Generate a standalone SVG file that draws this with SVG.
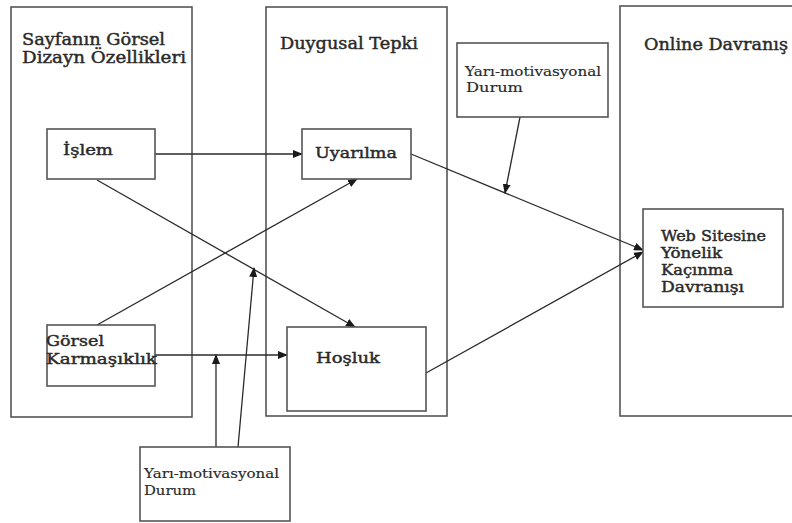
<svg xmlns="http://www.w3.org/2000/svg" width="792" height="523" viewBox="0 0 792 523">
<style>
.box{fill:none;stroke:#555;stroke-width:1.6}
.nb{fill:#fff;stroke:#555;stroke-width:1.6}
.t{font-family:"DejaVu Serif","Liberation Serif",serif;fill:#2a2a2a}
.h{font-size:16.5px;stroke:#2a2a2a;stroke-width:0.45}
.n{font-size:15px;stroke:#2a2a2a;stroke-width:0.45}
.s{font-size:12px;stroke:#2a2a2a;stroke-width:0.15}
.c{stroke:#2a2a2a;stroke-width:1.3;fill:none}
</style>
<defs>
<marker id="ah" markerUnits="userSpaceOnUse" markerWidth="10" markerHeight="8" refX="9" refY="4" orient="auto">
<path d="M0,0 L10,4 L0,8 Z" fill="#1a1a1a"/>
</marker>
</defs>
<rect width="792" height="523" fill="#fff"/>
<g id="col-left">
<rect class="box" x="11" y="7" width="181" height="410"/>
<text class="t h" x="22" y="45" textLength="143" lengthAdjust="spacingAndGlyphs">Sayfanın Görsel</text>
<text class="t h" x="22" y="63" textLength="164" lengthAdjust="spacingAndGlyphs">Dizayn Özellikleri</text>
</g>
<g id="col-mid">
<rect class="box" x="266" y="7" width="181" height="409"/>
<text class="t h" x="280" y="49" textLength="138" lengthAdjust="spacingAndGlyphs">Duygusal Tepki</text>
</g>
<g id="col-right">
<rect class="box" x="620" y="6" width="190" height="410"/>
<text class="t h" x="644" y="50" textLength="144" lengthAdjust="spacingAndGlyphs">Online Davranış</text>
</g>
<g id="connectors">
<line class="c" x1="155" y1="154" x2="302" y2="154" marker-end="url(#ah)"/>
<line class="c" x1="97" y1="325" x2="357" y2="179" marker-end="url(#ah)"/>
<line class="c" x1="97" y1="180" x2="355" y2="327" marker-end="url(#ah)"/>
<line class="c" x1="155" y1="355" x2="287" y2="355" marker-end="url(#ah)"/>
<line class="c" x1="411" y1="154" x2="643" y2="250" marker-end="url(#ah)"/>
<line class="c" x1="426" y1="373" x2="643" y2="252" marker-end="url(#ah)"/>
<line class="c" x1="520" y1="117" x2="505" y2="193" marker-end="url(#ah)"/>
<line class="c" x1="216" y1="447" x2="216" y2="355" marker-end="url(#ah)"/>
<line class="c" x1="238" y1="447" x2="254" y2="268" marker-end="url(#ah)"/>
</g>
<g id="islem">
<rect class="nb" x="47" y="129" width="108" height="50"/>
<text class="t n" x="63" y="155" textLength="50" lengthAdjust="spacingAndGlyphs">İşlem</text>
</g>
<g id="uyarilma">
<rect class="nb" x="302" y="129" width="109" height="50"/>
<text class="t n" x="315" y="158" textLength="82" lengthAdjust="spacingAndGlyphs">Uyarılma</text>
</g>
<g id="gorsel">
<rect class="nb" x="47" y="325" width="108" height="61"/>
<text class="t n" x="46" y="346" textLength="58" lengthAdjust="spacingAndGlyphs">Görsel</text>
<text class="t n" x="46" y="364" textLength="111" lengthAdjust="spacingAndGlyphs">Karmaşıklık</text>
</g>
<g id="hosluk">
<rect class="nb" x="287" y="327" width="139" height="84"/>
<text class="t n" x="316" y="363" textLength="64" lengthAdjust="spacingAndGlyphs">Hoşluk</text>
</g>
<g id="web">
<rect class="nb" x="643" y="209" width="140" height="98"/>
<text class="t n" x="661" y="241" textLength="105" lengthAdjust="spacingAndGlyphs">Web Sitesine</text>
<text class="t n" x="661" y="258" textLength="61" lengthAdjust="spacingAndGlyphs">Yönelik</text>
<text class="t n" x="661" y="275" textLength="72" lengthAdjust="spacingAndGlyphs">Kaçınma</text>
<text class="t n" x="661" y="292" textLength="83" lengthAdjust="spacingAndGlyphs">Davranışı</text>
</g>
<g id="yari-top">
<rect class="nb" x="457" y="43" width="151" height="74"/>
<text class="t s" x="465" y="76" textLength="136" lengthAdjust="spacingAndGlyphs">Yarı-motivasyonal</text>
<text class="t s" x="466" y="92" textLength="57" lengthAdjust="spacingAndGlyphs">Durum</text>
</g>
<g id="yari-bottom">
<rect class="nb" x="140" y="447" width="150" height="74"/>
<text class="t s" x="144" y="478" textLength="135" lengthAdjust="spacingAndGlyphs">Yarı-motivasyonal</text>
<text class="t s" x="144" y="495" textLength="52" lengthAdjust="spacingAndGlyphs">Durum</text>
</g>
</svg>
